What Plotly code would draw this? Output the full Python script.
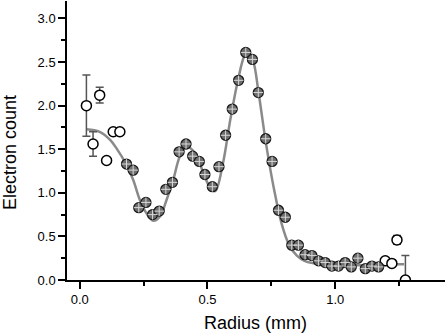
import plotly.graph_objects as go

# Open-circle data points (radius mm, electron count, error)
open_x = [0.026, 0.052, 0.078, 0.105, 0.131, 0.157, 1.196, 1.222, 1.242, 1.275]
open_y = [2.00, 1.56, 2.12, 1.37, 1.70, 1.70, 0.22, 0.19, 0.46, 0.0]
open_err = [0.35, 0.14, 0.09, 0, 0, 0, 0, 0, 0.05, 0.28]

# Filled data points
fill_x = [0.183, 0.209, 0.231, 0.259, 0.285, 0.311, 0.337, 0.363, 0.389, 0.416,
          0.442, 0.468, 0.490, 0.519, 0.545, 0.571, 0.597, 0.622, 0.650, 0.676,
          0.699, 0.728, 0.753, 0.778, 0.805, 0.830, 0.856, 0.882, 0.909, 0.935,
          0.961, 0.987, 1.013, 1.039, 1.063, 1.089, 1.118, 1.144, 1.170]
fill_y = [1.33, 1.26, 0.83, 0.89, 0.75, 0.79, 1.04, 1.12, 1.47, 1.56,
          1.42, 1.36, 1.21, 1.07, 1.30, 1.66, 1.96, 2.29, 2.61, 2.53,
          2.15, 1.62, 1.36, 0.80, 0.72, 0.40, 0.40, 0.29, 0.28, 0.22,
          0.20, 0.16, 0.16, 0.20, 0.15, 0.25, 0.13, 0.16, 0.15]

# Fitted curve
fit_x = [0.026, 0.078, 0.118, 0.144, 0.183, 0.209, 0.235, 0.26, 0.288, 0.314,
         0.34, 0.366, 0.392, 0.418, 0.45, 0.48, 0.51, 0.53, 0.56, 0.59, 0.62,
         0.645, 0.66, 0.68, 0.70, 0.73, 0.76, 0.79, 0.82, 0.85, 0.88, 0.92,
         1.00, 1.10, 1.20, 1.27]
fit_y = [1.73, 1.70, 1.61, 1.51, 1.32, 1.15, 0.92, 0.77, 0.68, 0.73,
         0.92, 1.15, 1.42, 1.53, 1.46, 1.26, 1.06, 1.02, 1.33, 1.85, 2.30,
         2.57, 2.61, 2.50, 2.15, 1.55, 1.05, 0.65, 0.40, 0.28, 0.22, 0.19,
         0.17, 0.17, 0.18, 0.18]

x_ticks = [0.0, 0.5, 1.0]
x_labels = ["0.0", "0.5", "1.0"]
y_ticks = [0.0, 0.5, 1.0, 1.5, 2.0, 2.5, 3.0]
y_labels = ["0.0", "0.5", "1.0", "1.5", "2.0", "2.5", "3.0"]
x_title = "Radius (mm)"
y_title = "Electron count"

FONT = "Liberation Sans, Arial, Helvetica"

fig = go.Figure()
fig.add_trace(go.Scatter(x=fit_x, y=fit_y, mode="lines",
                         line=dict(color="#8a8a8a", width=2.5, shape="spline", smoothing=1.0),
                         hoverinfo="skip"))
fig.add_trace(go.Scatter(x=open_x, y=open_y, mode="markers",
                         marker=dict(symbol="circle", size=10, color="white",
                                     line=dict(color="black", width=1.5)),
                         error_y=dict(type="data", array=open_err, visible=True,
                                      color="#555555", thickness=1.5, width=4)))
fig.add_trace(go.Scatter(x=fill_x, y=fill_y, mode="markers",
                         marker=dict(symbol="circle", size=10, color="#6e6e6e",
                                     line=dict(color="#1a1a1a", width=1.3))))
fig.add_trace(go.Scatter(x=fill_x, y=fill_y, mode="markers",
                         marker=dict(symbol="cross-thin", size=7,
                                     line=dict(color="#d8d8d8", width=1))))

axis_common = dict(showgrid=False, zeroline=False, showline=True, linecolor="black",
                   linewidth=1.5, ticks="outside", tickcolor="black", tickwidth=1.5,
                   ticklen=7, automargin=False,
                   tickfont=dict(family=FONT, size=13, color="black"))

fig.update_xaxes(range=[-0.05, 1.43], tickvals=x_ticks, ticktext=x_labels,
                 minor=dict(dtick=0.25, tick0=0, ticks="outside", ticklen=4, tickwidth=1.5, tickcolor="black"),
                 **axis_common)
fig.update_yaxes(range=[0, 3.2], tickvals=y_ticks, ticktext=y_labels,
                 minor=dict(dtick=0.25, tick0=0, ticks="outside", ticklen=4, tickwidth=1.5, tickcolor="black"),
                 **axis_common)

# axis titles placed as annotations (pixel-matched)
fig.add_annotation(text=x_title, xref="paper", yref="paper",
                   x=(255 - 67) / 378, y=(280 - 323) / 279, xanchor="center", yanchor="middle",
                   showarrow=False, font=dict(family=FONT, size=18, color="black"))
fig.add_annotation(text=y_title, xref="paper", yref="paper", textangle=-90,
                   x=(10 - 67) / 378, y=(280 - 153) / 279, xanchor="center", yanchor="middle",
                   showarrow=False, font=dict(family=FONT, size=18, color="black"))

fig.update_layout(width=446, height=336, margin=dict(l=67, r=1, t=1, b=56),
                  plot_bgcolor="white", paper_bgcolor="white", showlegend=False)

fig.write_html("out.html", config={"displayModeBar": False},
               post_script="document.body.style.margin='0';document.body.style.overflow='hidden';")
